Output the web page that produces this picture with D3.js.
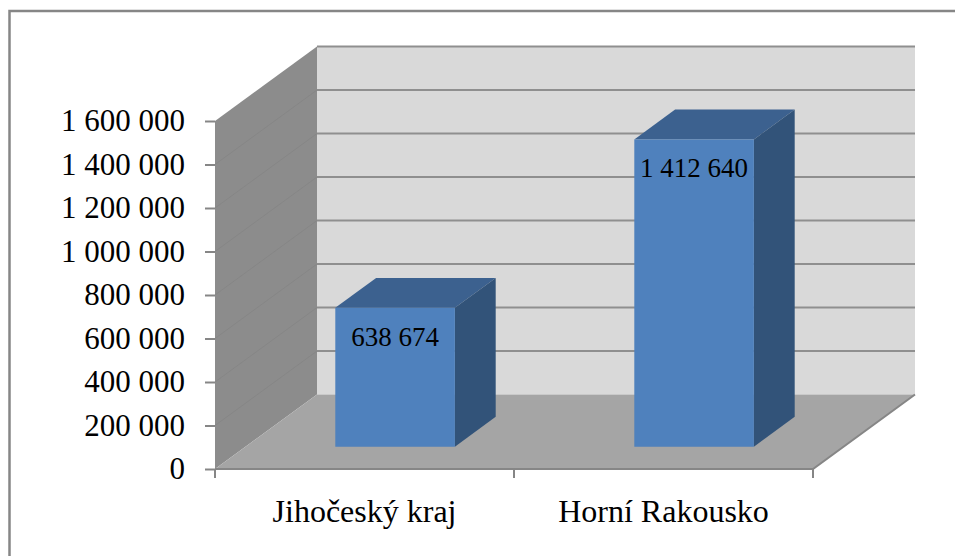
<!DOCTYPE html>
<html>
<head>
<meta charset="utf-8">
<script src="https://cdn.jsdelivr.net/npm/d3@7"></script>
<style>
	body { margin: 0; background: #fff; }
	text { font-family: "Liberation Serif", serif; fill: #000; }
</style>
</head>
<body>
<script>
var categories = ["Jihočeský kraj", "Horní Rakousko"];
var values = [638674, 1412640];
var yTicks = [0, 200000, 400000, 600000, 800000, 1000000, 1200000, 1400000, 1600000];

var width = 955;
var height = 556;
var axisColor = "#868686";

var locale = d3.formatLocale({ decimal: ",", thousands: " ", grouping: [3], currency: ["", ""] });
var numFormat = locale.format(",d");

var x = d3.scaleBand()
	.domain(categories)
	.range([215, 813])
	.paddingInner(0.6)
	.paddingOuter(0.3);

var y = d3.scaleLinear()
	.domain([0, 1600000])
	.range([469, 121]);

// depth goes 0 (front) to 1 (back wall)
var depthX = d3.scaleLinear().domain([0, 1]).range([0, 102]);
var depthY = d3.scaleLinear().domain([0, 1]).range([0, -74.5]);

// x pixel + value + depth to a screen point
function pt(px, v, d) {
	return [px + depthX(d), y(v) + depthY(d)];
}

function poly(points) {
	return "M" + points.join("L") + "Z";
}

var svg = d3.select("body")
	.append("svg")
	.attr("width", width)
	.attr("height", height)
	.style("display", "block");

// outer frame, only top and left show
svg.append("path")
	.attr("d", "M9.5,556V11H955")
	.attr("fill", "none")
	.attr("stroke", "#868686")
	.attr("stroke-width", 2.5);

var x0 = x.range()[0];
var x1 = x.range()[1];
var yMax = y.domain()[1];

// back wall
svg.append("path")
	.attr("d", poly([pt(x0, 0, 1), pt(x0, yMax, 1), pt(x1, yMax, 1), pt(x1, 0, 1)]))
	.attr("fill", "#d9d9d9");

// side wall
svg.append("path")
	.attr("d", poly([pt(x0, 0, 0), pt(x0, yMax, 0), pt(x0, yMax, 1), pt(x0, 0, 1)]))
	.attr("fill", "#8c8c8c");

// floor
svg.append("path")
	.attr("d", poly([pt(x0, 0, 0), pt(x0, 0, 1), pt(x1, 0, 1), pt(x1, 0, 0)]))
	.attr("fill", "#a5a5a5");

// gridlines on back wall
svg.append("g")
	.selectAll("line")
	.data(yTicks.slice(1))
	.enter()
	.append("line")
	.attr("x1", pt(x0, 0, 1)[0])
	.attr("x2", pt(x1, 0, 1)[0])
	.attr("y1", function(d) { return pt(x0, d, 1)[1]; })
	.attr("y2", function(d) { return pt(x0, d, 1)[1]; })
	.attr("stroke", "#8f8f8f")
	.attr("stroke-width", 2);

// gridlines on side wall
svg.append("g")
	.selectAll("line")
	.data(yTicks.slice(1, -1))
	.enter()
	.append("line")
	.attr("x1", function(d) { return pt(x0, d, 0)[0]; })
	.attr("y1", function(d) { return pt(x0, d, 0)[1]; })
	.attr("x2", function(d) { return pt(x0, d, 1)[0]; })
	.attr("y2", function(d) { return pt(x0, d, 1)[1]; })
	.attr("stroke", "#868686")
	.attr("stroke-width", 1);

// floor front and right edges
svg.append("path")
	.attr("d", "M" + [pt(x0, 0, 0), pt(x1, 0, 0), pt(x1, 0, 1)].join("L"))
	.attr("fill", "none")
	.attr("stroke", axisColor)
	.attr("stroke-width", 2);

// bars
var bars = svg.append("g")
	.selectAll("g")
	.data(values)
	.enter()
	.append("g");

var dFront = 0.3;
var dBack = 0.7;

// top face
bars.append("path")
	.attr("d", function(d, i) {
		var l = x(categories[i]), r = l + x.bandwidth();
		return poly([pt(l, d, dFront), pt(l, d, dBack), pt(r, d, dBack), pt(r, d, dFront)]);
	})
	.attr("fill", "#3c618f");

// side face
bars.append("path")
	.attr("d", function(d, i) {
		var r = x(categories[i]) + x.bandwidth();
		return poly([pt(r, 0, dFront), pt(r, d, dFront), pt(r, d, dBack), pt(r, 0, dBack)]);
	})
	.attr("fill", "#325379");

// front face
bars.append("path")
	.attr("d", function(d, i) {
		var l = x(categories[i]), r = l + x.bandwidth();
		return poly([pt(l, 0, dFront), pt(l, d, dFront), pt(r, d, dFront), pt(r, 0, dFront)]);
	})
	.attr("fill", "#4f81bd");

// value labels
bars.append("text")
	.attr("x", function(d, i) { return x(categories[i]) + x.bandwidth() / 2 + depthX(dFront); })
	.attr("y", function(d) { return pt(0, d, dFront)[1] + 38; })
	.attr("text-anchor", "middle")
	.style("font-size", "27px")
	.text(function(d) { return numFormat(d); });

// y axis
var yAxis = d3.axisLeft(y)
	.tickValues(yTicks)
	.tickFormat(numFormat)
	.tickSize(10)
	.tickPadding(20);

var yAxisGroup = svg.append("g")
	.attr("transform", "translate(" + x0 + ",0)")
	.call(yAxis);

yAxisGroup.select(".domain").remove();
yAxisGroup.selectAll("line").attr("stroke", axisColor).attr("stroke-width", 2);
yAxisGroup.selectAll("text")
	.style("font-size", "31px");

// x axis labels
var xAxis = d3.axisBottom(x)
	.tickSize(0)
	.tickPadding(30);

var xAxisGroup = svg.append("g")
	.attr("transform", "translate(0," + y(0) + ")")
	.call(xAxis);

xAxisGroup.select(".domain").remove();
xAxisGroup.selectAll("text")
	.style("font-size", "32px");

// ticks sit between the categories
var xEdges = [x0, (x0 + x1) / 2, x1];
svg.append("g")
	.selectAll("line")
	.data(xEdges)
	.enter()
	.append("line")
	.attr("x1", function(d) { return d; })
	.attr("x2", function(d) { return d; })
	.attr("y1", y(0))
	.attr("y2", y(0) + 9)
	.attr("stroke", axisColor)
	.attr("stroke-width", 2);
</script>
</body>
</html>
